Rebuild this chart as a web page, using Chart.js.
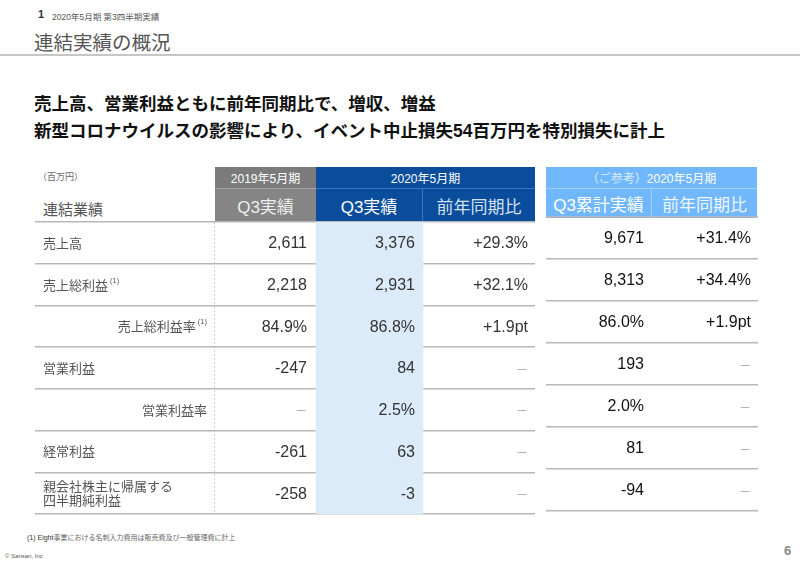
<!DOCTYPE html>
<html lang="ja">
<head>
<meta charset="utf-8">
<script src="https://cdn.jsdelivr.net/npm/chart.js@4.4.1/dist/chart.umd.min.js"></script>
<style>
  html, body { margin: 0; padding: 0; background: #fff; }
  body { width: 800px; height: 567px; position: relative; overflow: hidden;
         font-family: "Liberation Sans", "Noto Sans CJK JP", sans-serif; color: #333; }
  .abs { position: absolute; white-space: nowrap; }
  .cell { position: absolute; display: flex; align-items: center; justify-content: center;
          color: #fff; box-sizing: border-box; white-space: nowrap; }
  .tbl { position: absolute; }
</style>
</head>
<body>
<div class="abs" style="left:38px;top:8px;font-size:11px;font-weight:bold;color:#333">1</div>
<div class="abs" style="left:52px;top:10px;font-size:8.5px;color:#555">2020年5月期 第3四半期実績</div>
<div class="abs" style="left:34px;top:27px;font-size:19.5px;color:#555">連結実績の概況</div>
<div class="abs" style="left:0;top:54px;width:800px;height:2px;background:#c6c6c6"></div>
<div class="abs" style="left:34px;top:91px;font-size:17.5px;font-weight:bold;line-height:27px;color:#111">売上高、営業利益ともに前年同期比で、増収、増益<br>新型コロナウイルスの影響により、イベント中止損失54百万円を特別損失に計上</div>

<div class="abs" style="left:38px;top:170px;font-size:9px;color:#666">（百万円）</div>
<div class="abs" style="left:43px;top:198px;font-size:15px;color:#555">連結業績</div>

<!-- header cells -->
<div class="cell" style="left:215px;top:167px;width:101px;height:21px;background:#7b7b7b;font-size:12px">2019年5月期</div>
<div class="cell" style="left:215px;top:188px;width:101px;height:33px;background:#858585;border-top:1px solid #a5a5a5;font-size:17px;color:#eee">Q3実績</div>
<div class="cell" style="left:316px;top:167px;width:219px;height:21px;background:#0a4d9d;font-size:12px">2020年5月期</div>
<div class="cell" style="left:316px;top:188px;width:107px;height:33px;background:#0a4d9d;border-top:1px solid #3d75ba;border-right:1px solid #3d75ba;font-size:17px">Q3実績</div>
<div class="cell" style="left:423px;top:188px;width:112px;height:33px;background:#0a4d9d;border-top:1px solid #3d75ba;font-size:17px;color:#d4e0ef">前年同期比</div>
<div class="cell" style="left:546px;top:167px;width:211px;height:21px;background:#71b7fb;font-size:12px"><span style="color:#dcecff">（ご参考）</span>2020年5月期</div>
<div class="cell" style="left:546px;top:188px;width:106px;height:30px;background:#71b7fb;border-top:1px solid #a0d0ff;border-right:1px solid #a0d0ff;font-size:17px">Q3累計実績</div>
<div class="cell" style="left:652px;top:188px;width:105px;height:30px;background:#71b7fb;border-top:1px solid #a0d0ff;font-size:17px;color:#eef6ff">前年同期比</div>

<div class="tbl" style="left:35px;top:221px;width:500px;height:294px"><canvas id="leftTable"></canvas></div>
<div class="tbl" style="left:546px;top:216px;width:212px;height:296px"><canvas id="rightTable"></canvas></div>

<div class="abs" style="left:27px;top:532px;font-size:7px;color:#666"><span style="color:#333">(1) Eight</span>事業における名刺入力費用は販売費及び一般管理費に計上</div>
<div class="abs" style="left:5px;top:553px;font-size:6px;color:#555">© Sansan, Inc</div>
<div class="abs" style="left:784px;top:543px;font-size:13px;font-weight:bold;color:#888">6</div>

<script>
// rows of the table
const rowLabels = ['売上高', '売上総利益', '売上総利益率', '営業利益', '営業利益率', '経常利益', ['親会社株主に帰属する', '四半期純利益']];
const rowNotes = ['', '(1)', '(1)', '', '', '', ''];
const rowIsRate = [false, false, true, false, true, false, false];

// values (百万円 / %)
const q3Fy2019 = [2611, 2218, 84.9, -247, null, -261, -258];
const q3Fy2020 = [3376, 2931, 86.8, 84, 2.5, 63, -3];
const q3Yoy = [29.3, 32.1, 1.9, null, null, null, null];
const cumFy2020 = [9671, 8313, 86.0, 193, 2.0, 81, -94];
const cumYoy = [31.4, 34.4, 1.9, null, null, null, null];

const DASH = '－';
const SANS = '"Liberation Sans", "Noto Sans CJK JP", sans-serif';
const CJK = '"Noto Sans CJK JP", sans-serif';

function fmtValue(v, i) {
    if (v === null) return DASH;
    return rowIsRate[i] ? v.toFixed(1) + '%' : v.toLocaleString('en-US');
}

function fmtYoy(v, i) {
    if (v === null) return DASH;
    return (v >= 0 ? '+' : '') + v.toFixed(1) + (rowIsRate[i] ? 'pt' : '%');
}

// draws cell text at scale positions
const tableText = {
    id: 'tableText',
    afterDraw(chart, args, opts) {
        const ctx = chart.ctx;
        const x = chart.scales.x, y = chart.scales.y;
        ctx.save();
        ctx.textBaseline = 'middle';
        rowLabels.forEach((label, i) => {
            const yc = y.getPixelForValue(i);
            if (opts.labels) {
                ctx.font = '13px ' + CJK;
                ctx.fillStyle = '#555';
                const lines = Array.isArray(label) ? label : [label];
                const note = rowNotes[i];
                if (rowIsRate[i]) {
                    ctx.font = '7.5px ' + SANS;
                    const nw = note ? ctx.measureText(note).width + 2 : 0;
                    const xr = x.getPixelForValue(opts.labels.indentRight);
                    if (note) {
                        ctx.textAlign = 'right';
                        ctx.fillText(note, xr, yc - 4);
                    }
                    ctx.font = '13px ' + CJK;
                    ctx.textAlign = 'right';
                    ctx.fillText(lines[0], xr - nw, yc);
                } else {
                    ctx.textAlign = 'left';
                    const xl = x.getPixelForValue(opts.labels.left);
                    lines.forEach((ln, k) => {
                        ctx.fillText(ln, xl, yc + (k - (lines.length - 1) / 2) * 14.5);
                    });
                    if (note) {
                        const w = ctx.measureText(lines[0]).width;
                        ctx.font = '7.5px ' + SANS;
                        ctx.fillText(note, xl + w + 2, yc - 4);
                    }
                }
            }
            opts.columns.forEach(col => {
                const txt = col.format(col.values[i], i);
                const dash = txt === DASH;
                ctx.font = dash ? '12px ' + CJK : '16px ' + SANS;
                ctx.fillStyle = dash ? '#a5a5a5' : opts.color;
                ctx.textAlign = 'right';
                ctx.fillText(txt, x.getPixelForValue(col.right), yc + 1);
            });
        });
        ctx.restore();
    }
};

function makeTable(id, xRange, datasets, textOpts, dotAt) {
    return new Chart(document.getElementById(id), {
        type: 'bar',
        data: { labels: rowLabels, datasets: datasets },
        options: {
            indexAxis: 'y',
            responsive: true,
            maintainAspectRatio: false,
            animation: false,
            devicePixelRatio: 1,
            layout: { padding: { top: 1, bottom: 1, left: 0, right: 0 } },
            plugins: { legend: { display: false }, tooltip: { enabled: false }, tableText: textOpts },
            scales: {
                x: {
                    type: 'linear', min: xRange[0], max: xRange[1],
                    ticks: { display: false },
                    grid: { display: dotAt !== null, drawTicks: false, color: '#cfcfcf', lineWidth: 1 },
                    border: { display: false, dash: [2, 2] },
                    afterBuildTicks: s => { s.ticks = dotAt !== null ? [{ value: dotAt }] : []; },
                    afterFit: s => { s.height = 0; }
                },
                y: {
                    type: 'category', z: 1,
                    ticks: { display: false },
                    grid: { offset: true, drawTicks: false, color: '#b8b8b8', lineWidth: 1.5 },
                    border: { display: false },
                    afterFit: s => { s.width = 0; }
                }
            }
        },
        plugins: [tableText]
    });
}

// left table: highlighted Q3 FY2020 column
makeTable('leftTable', [35, 535], [{
    data: rowLabels.map(() => [316, 423]),
    backgroundColor: '#dcebf9',
    borderWidth: 0,
    barPercentage: 1,
    categoryPercentage: 1
}], {
    labels: { left: 43, indentRight: 207 },
    color: '#333',
    columns: [
        { values: q3Fy2019, right: 307, format: fmtValue },
        { values: q3Fy2020, right: 415, format: fmtValue },
        { values: q3Yoy, right: 528, format: fmtYoy }
    ]
}, 214);

// right table: cumulative reference
makeTable('rightTable', [546, 758], [{
    data: rowLabels.map(() => null),
    backgroundColor: 'transparent'
}], {
    labels: null,
    color: '#111',
    columns: [
        { values: cumFy2020, right: 644, format: fmtValue },
        { values: cumYoy, right: 751, format: fmtYoy }
    ]
}, null);
</script>
</body>
</html>
